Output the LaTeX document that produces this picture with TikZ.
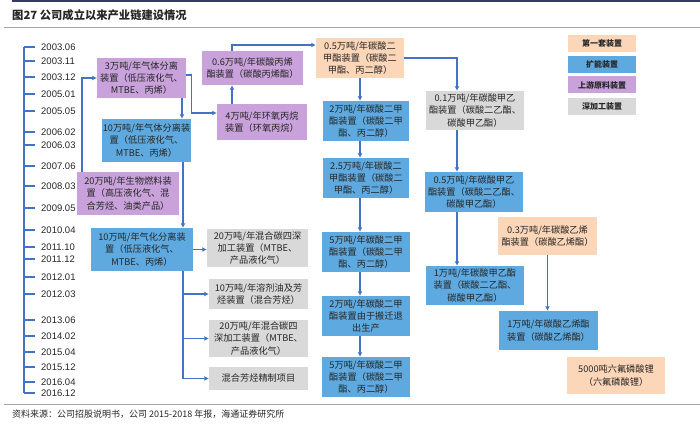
\documentclass[tikz,border=0pt]{standalone}
\usepackage{fontspec}
\setmainfont{Liberation Sans}
\newfontfamily\cjk{Noto Sans CJK SC}
\usetikzlibrary{arrows.meta}
\definecolor{arrowblue}{RGB}{68,114,196}
\definecolor{boxblue}{RGB}{94,170,224}
\definecolor{boxpurple}{RGB}{201,161,219}
\definecolor{boxorange}{RGB}{252,214,184}
\definecolor{boxgrey}{RGB}{217,217,217}
\definecolor{ink}{RGB}{38,38,38}
\tikzset{
  plant/.style={inner sep=1pt, align=center, text=ink,
    font=\cjk\fontsize{9.2}{12.4}\selectfont},
  boxsz/.style 2 args={minimum width=#1, minimum height=#2},
  firstbox/.style={plant, fill=boxorange},
  expbox/.style={plant, fill=boxblue},
  upbox/.style={plant, fill=boxpurple},
  deepbox/.style={plant, fill=boxgrey},
  keybox/.style={inner sep=0pt, boxsz={68}{17}, text=ink,
    font=\cjk\bfseries\fontsize{8}{10}\selectfont},
  arr/.style={draw=arrowblue, line width=1.1pt, -{Latex[length=4.5pt,width=5pt]}},
  tl/.style={draw=arrowblue, line width=1.1pt}
}
\begin{document}
\begin{tikzpicture}[x=1pt, y=-1pt]
  \useasboundingbox (0,0) rectangle (700,425);
  \draw[line width=2pt, color={rgb,255:red,50;green,60;blue,100}] (12,1) -- (700,1);
  \node[anchor=west, inner sep=0pt, font=\cjk\bfseries\fontsize{11.3}{13}\selectfont, text=ink]
    (title) at (12,15) {图27 公司成立以来产业链建设情况};
  \draw[gray!70, line width=0.6pt] (4,27) -- (700,27);
  \draw[gray!70, line width=0.6pt] (4,404) -- (700,404);
  \node[anchor=west, inner sep=0pt, font=\cjk\fontsize{9}{10}\selectfont, text=ink]
    (source) at (12,414) {资料来源：公司招股说明书，公司 2015-2018 年报，海通证券研究所};

  \draw[tl] (24,47) -- (24,393);
  \foreach \y/\d [count=\i] in {47/2003.06, 61/2003.11, 77/2003.12, 94/2005.01,
      111/2005.05, 132/2006.02, 145/2006.03, 166/2007.06, 186/2008.03,
      208/2009.05, 230/2010.04, 247/2011.10, 259/2011.12, 277/2012.01,
      294/2012.03, 320/2013.06, 336/2014.02, 352/2015.04, 367/2015.12,
      382/2016.04, 393/2016.12}{
    \draw[tl] (24,\y) -- (35,\y);
    \node[anchor=west, inner sep=0pt, font=\fontsize{9.5}{11}\selectfont, text=ink]
      (t\i) at (41,\y) {\d};
  }

  \node[upbox, boxsz={89}{40}] (gas3) at (141.5,78)
    {3万吨/年气体分离\\装置（低压液化气、\\MTBE、丙烯）};
  \node[expbox, boxsz={86}{43}] (gas10) at (146.5,140.5)
    {10万吨/年气体分离装\\置（低压液化气、\\MTBE、丙烯）};
  \node[upbox, boxsz={102}{43}] (bio) at (128,193.5)
    {20万吨/年生物燃料装\\置（高压液化气、混\\合芳烃、油类产品）};
  \node[expbox, boxsz={102}{43}] (gasify) at (142,249.5)
    {10万吨/年气化分离装\\置（低压液化气、\\MTBE、丙烯）};
  \node[deepbox, boxsz={101}{38}] (ctwo) at (257.5,248)
    {20万吨/年混合碳四深\\加工装置（MTBE、\\产品液化气）};
  \node[deepbox, boxsz={99}{30}] (solv) at (258.5,294)
    {10万吨/年溶剂油及芳\\烃装置（混合芳烃）};
  \node[deepbox, boxsz={99}{37}] (cfour) at (258.5,338.5)
    {20万吨/年混合碳四\\深加工装置（MTBE、\\产品液化气）};
  \node[deepbox, boxsz={99}{23}] (arom) at (258.5,378.5) {混合芳烃精制项目};

  \node[upbox, boxsz={101}{34}] (pc) at (252.5,68)
    {0.6万吨/年碳酸丙烯\\酯装置（碳酸丙烯酯）};
  \node[upbox, boxsz={90}{36}] (po) at (262,122)
    {4万吨/年环氧丙烷\\装置（环氧丙烷）};

  \node[firstbox, boxsz={88}{40}] (dmc1) at (360,58)
    {0.5万吨/年碳酸二\\甲酯装置（碳酸二\\甲酯、丙二醇）};
  \node[expbox, boxsz={86}{40}] (dmc2) at (366,121)
    {2万吨/年碳酸二甲\\酯装置（碳酸二甲\\酯、丙二醇）};
  \node[expbox, boxsz={86}{40}] (dmc3) at (366,178)
    {2.5万吨/年碳酸二\\甲酯装置（碳酸二\\甲酯、丙二醇）};
  \node[expbox, boxsz={88}{40}] (dmc4) at (366,252)
    {5万吨/年碳酸二甲\\酯装置（碳酸二甲\\酯、丙二醇）};
  \node[expbox, boxsz={88}{40}] (dmc5) at (366,316)
    {2万吨/年碳酸二甲\\酯装置由于搬迁退\\出生产};
  \node[expbox, boxsz={88}{40}] (dmc6) at (366,377)
    {5万吨/年碳酸二甲\\酯装置（碳酸二甲\\酯、丙二醇）};

  \node[deepbox, boxsz={98}{39}] (emc1) at (475,110.5)
    {0.1万吨/年碳酸甲乙\\酯装置（碳酸二乙酯、\\碳酸甲乙酯）};
  \node[expbox, boxsz={98}{40}] (emc2) at (474,192)
    {0.5万吨/年碳酸甲乙\\酯装置（碳酸二乙酯、\\碳酸甲乙酯）};
  \node[expbox, boxsz={98}{39}] (emc3) at (475,285.5)
    {1万吨/年碳酸甲乙酯\\装置（碳酸二乙酯、\\碳酸甲乙酯）};
  \node[firstbox, boxsz={99}{38}] (ec1) at (547.5,236)
    {0.3万吨/年碳酸乙烯\\酯装置（碳酸乙烯酯）};
  \node[expbox, boxsz={99}{39}] (ec2) at (548.5,330.5)
    {1万吨/年碳酸乙烯酯\\装置（碳酸乙烯酯）};
  \node[firstbox, boxsz={98}{37}] (lipf) at (616,375.5)
    {5000吨六氟磷酸锂\\（六氟磷酸锂）};

  \node[keybox, fill=boxorange] (key1) at (602,43.5) {第一套装置};
  \node[keybox, fill=boxblue] (key2) at (602,64.5) {扩能装置};
  \node[keybox, fill=boxpurple] (key3) at (602,85) {上游原料装置};
  \node[keybox, fill=boxgrey] (key4) at (602,106.5) {深加工装置};

  \draw[arr] (bio.north -| 82,0) |- (gas3.west);
  \draw[arr] (gas3.south -| 182,0) -- (gas10.north -| 182,0);
  \draw[arr] ([yshift=3pt]gas3.east) -- ++(5,0) |- ([yshift=9pt]po.west);
  \draw[arr] (gas10.south -| 183,0) -- (gasify.north -| 183,0);
  \draw[arr] (gasify.east) -- (gasify.east -| ctwo.west);
  \draw[arr] (gasify.south -| 183,0) |- (solv.west);
  \draw[arr] (gasify.south -| 183,0) |- (cfour.west);
  \draw[arr] (gasify.south -| 183,0) |- (arom.west);
  \draw[arr] (po.north -| 232,0) -- (pc.south -| 232,0);
  \draw[arr] (pc.north -| 232,0) |- ([yshift=13pt]dmc1.west);
  \draw[arr] (dmc1.south) -- (dmc1.south |- dmc2.north);
  \draw[arr] (dmc2.south -| dmc1) -- (dmc3.north -| dmc1);
  \draw[arr] (dmc3.south -| dmc1) -- (dmc4.north -| dmc1);
  \draw[arr] (dmc4.south -| dmc1) -- (dmc5.north -| dmc1);
  \draw[arr] (dmc5.south -| dmc1) -- (dmc6.north -| dmc1);
  \draw[arr] (dmc1.east) -| (emc1.north -| 457,0);
  \draw[arr] (emc1.south -| 457,0) -- (emc2.north -| 457,0);
  \draw[arr] (emc2.south -| 457,0) -- (emc3.north -| 457,0);
  \draw[arr] (ec1.south) -- (ec1.south |- ec2.north);
\end{tikzpicture}
\end{document}
